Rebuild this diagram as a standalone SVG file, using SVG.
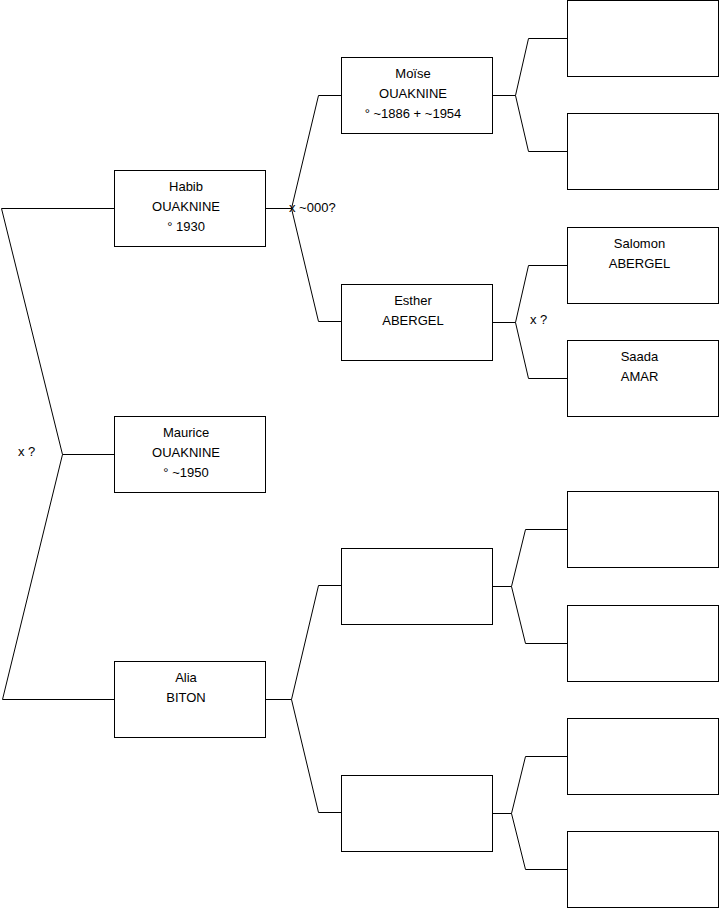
<svg xmlns="http://www.w3.org/2000/svg" width="719" height="908" viewBox="0 0 719 908">
<style>
.box{fill:#fff;stroke:#000;stroke-width:1}
.ln{fill:none;stroke:#000;stroke-width:1}
text{font-family:"Liberation Sans",Arial,sans-serif;font-size:13px;fill:#000}
.c{text-anchor:middle}
</style>
<rect width="719" height="908" fill="#fff"/>
<g id="connectors">
<polyline class="ln" points="114,208.5 1.5,208.5 62.5,454.5 2.5,699.5 114,699.5"/>
<line class="ln" x1="62.5" y1="454.5" x2="114" y2="454.5"/>
<polyline class="ln" points="341,95.5 318.5,95.5 291.5,208.5 318.5,321.5 341,321.5"/>
<line class="ln" x1="265" y1="208.5" x2="291.5" y2="208.5"/>
<polyline class="ln" points="567,38.5 528.5,38.5 515.5,95.5 528.5,151.5 567,151.5"/>
<line class="ln" x1="492" y1="95.5" x2="515.5" y2="95.5"/>
<polyline class="ln" points="567,265.5 528.5,265.5 515.5,322.5 528.5,378.5 567,378.5"/>
<line class="ln" x1="492" y1="322.5" x2="515.5" y2="322.5"/>
<polyline class="ln" points="341,585.5 318.5,585.5 291.5,699.5 318.5,812.5 341,812.5"/>
<line class="ln" x1="265" y1="699.5" x2="291.5" y2="699.5"/>
<polyline class="ln" points="567,529.5 525.5,529.5 511.5,586.5 525.5,643.5 567,643.5"/>
<line class="ln" x1="492" y1="586.5" x2="511.5" y2="586.5"/>
<polyline class="ln" points="567,756.5 525.5,756.5 511.5,813.5 525.5,869.5 567,869.5"/>
<line class="ln" x1="492" y1="813.5" x2="511.5" y2="813.5"/>
<text x="289" y="212">x ~000?</text>
<text x="530" y="324">x ?</text>
<text x="18" y="456">x ?</text>
</g>
<g id="habib"><rect class="box" x="114.5" y="170.5" width="151" height="76"/>
<text class="c" x="186" y="191">Habib</text><text class="c" x="186" y="211">OUAKNINE</text><text class="c" x="186" y="231">° 1930</text></g>
<g id="maurice"><rect class="box" x="114.5" y="416.5" width="151" height="76"/>
<text class="c" x="186" y="437">Maurice</text><text class="c" x="186" y="457">OUAKNINE</text><text class="c" x="186" y="477">° ~1950</text></g>
<g id="alia"><rect class="box" x="114.5" y="661.5" width="151" height="76"/>
<text class="c" x="186" y="682">Alia</text><text class="c" x="186" y="702">BITON</text></g>
<g id="moise"><rect class="box" x="341.5" y="57.5" width="151" height="76"/>
<text class="c" x="413" y="78">Moïse</text><text class="c" x="413" y="98">OUAKNINE</text><text class="c" x="413" y="118">° ~1886 + ~1954</text></g>
<g id="esther"><rect class="box" x="341.5" y="284.5" width="151" height="76"/>
<text class="c" x="413" y="305">Esther</text><text class="c" x="413" y="325">ABERGEL</text></g>
<g id="empty-a"><rect class="box" x="341.5" y="548.5" width="151" height="76"/></g>
<g id="empty-b"><rect class="box" x="341.5" y="775.5" width="151" height="76"/></g>
<g id="g3-1"><rect class="box" x="567.5" y="0.5" width="151" height="76"/></g>
<g id="g3-2"><rect class="box" x="567.5" y="113.5" width="151" height="76"/></g>
<g id="salomon"><rect class="box" x="567.5" y="227.5" width="151" height="76"/>
<text class="c" x="639.5" y="248">Salomon</text><text class="c" x="639.5" y="268">ABERGEL</text></g>
<g id="saada"><rect class="box" x="567.5" y="340.5" width="151" height="76"/>
<text class="c" x="639.5" y="361">Saada</text><text class="c" x="639.5" y="381">AMAR</text></g>
<g id="g3-5"><rect class="box" x="567.5" y="491.5" width="151" height="76"/></g>
<g id="g3-6"><rect class="box" x="567.5" y="605.5" width="151" height="76"/></g>
<g id="g3-7"><rect class="box" x="567.5" y="718.5" width="151" height="76"/></g>
<g id="g3-8"><rect class="box" x="567.5" y="831.5" width="151" height="76"/></g>
</svg>
